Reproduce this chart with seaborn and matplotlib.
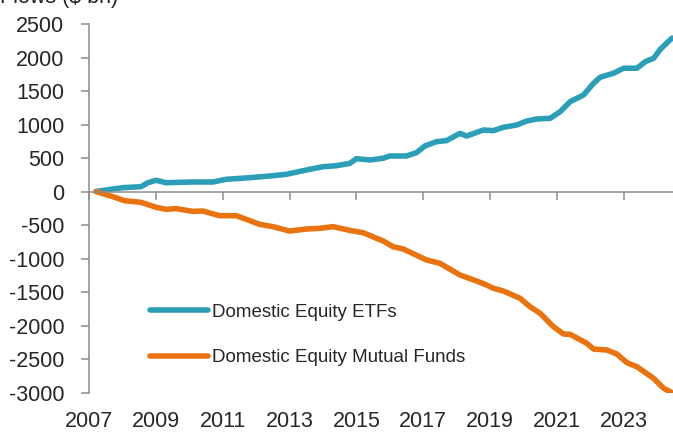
import matplotlib
matplotlib.use("Agg")
import numpy as np
import pandas as pd
import seaborn as sns
import matplotlib.pyplot as plt

# cumulative flows (decimal years)
etf_years = [2007.2, 2007.6, 2008.0, 2008.55, 2008.75, 2009.0, 2009.3, 2010.1, 2010.7,
             2011.1, 2011.8, 2012.5, 2012.9, 2013.6, 2014.0, 2014.4, 2014.8, 2015.0,
             2015.4, 2015.8, 2016.0, 2016.5, 2016.8, 2017.05, 2017.4, 2017.7, 2018.1,
             2018.3, 2018.8, 2019.1, 2019.4, 2019.8, 2020.1, 2020.4, 2020.8, 2021.1,
             2021.4, 2021.8, 2022.1, 2022.3, 2022.7, 2023.0, 2023.4, 2023.65, 2023.9,
             2024.1, 2024.45]
etf_flows = [0, 30, 57, 72, 131, 167, 131, 142, 142,
             182, 206, 236, 257, 331, 370, 385, 420, 490,
             470, 496, 530, 530, 580, 680, 744, 760, 868,
             828, 918, 908, 958, 993, 1052, 1082, 1092, 1191,
             1341, 1441, 1615, 1705, 1765, 1840, 1840, 1938, 1988,
             2123, 2290]

mf_years = [2007.2, 2007.8, 2008.05, 2008.55, 2009.0, 2009.3, 2009.6, 2010.1, 2010.4,
            2010.9, 2011.4, 2011.7, 2012.1, 2012.5, 2013.0, 2013.5, 2013.9, 2014.3,
            2014.8, 2015.2, 2015.8, 2016.1, 2016.4, 2017.1, 2017.5, 2018.1, 2018.6,
            2018.9, 2019.1, 2019.4, 2019.9, 2020.2, 2020.5, 2020.9, 2021.2, 2021.4,
            2021.9, 2022.1, 2022.5, 2022.8, 2023.1, 2023.4, 2023.9, 2024.2, 2024.45]
mf_flows = [0, -92, -137, -162, -236, -266, -256, -296, -291,
            -361, -361, -415, -490, -525, -590, -560, -550, -525,
            -580, -615, -739, -824, -858, -1022, -1072, -1246, -1336,
            -1396, -1445, -1485, -1594, -1720, -1818, -2018, -2127, -2132,
            -2266, -2351, -2366, -2426, -2555, -2615, -2789, -2938, -3003]

series_names = ["Domestic Equity ETFs", "Domestic Equity Mutual Funds"]
colors = ["#2c9fb8", "#e8730f"]
year_ticks = list(range(2007, 2024, 2))
y_ticks = list(range(-3000, 2501, 500))

sns.set_style("white")
plt.rcParams["font.family"] = ["Liberation Sans", "DejaVu Sans"]
plt.rcParams["axes.unicode_minus"] = False

fig = plt.figure(figsize=(6.73, 4.34), dpi=100)
ax = fig.add_axes([0.1327, 0.0956, 0.8673, 0.8491])

df_etf = pd.DataFrame({"year": etf_years, "flow": etf_flows})
df_mf = pd.DataFrame({"year": mf_years, "flow": mf_flows})
sns.lineplot(data=df_etf, x="year", y="flow", ax=ax, color=colors[0],
             linewidth=4, label=series_names[0])
sns.lineplot(data=df_mf, x="year", y="flow", ax=ax, color=colors[1],
             linewidth=4, label=series_names[1])

ax.set_xlim(2007, 2024.48)
ax.set_ylim(-3000, 2500)
ax.set_xlabel("")
ax.set_ylabel("")

grey = "#8c8c8c"
for s in ["top", "right"]:
    ax.spines[s].set_visible(False)
ax.spines["left"].set_color(grey)
ax.spines["left"].set_linewidth(1.1)
ax.spines["bottom"].set_position(("data", 0))
ax.spines["bottom"].set_color(grey)
ax.spines["bottom"].set_linewidth(1.1)

ax.set_yticks(y_ticks)
ax.tick_params(axis="y", direction="out", length=6, width=1.1, color=grey,
               labelsize=15.5, pad=12, left=True)
ax.set_xticks(year_ticks)
ax.tick_params(axis="x", direction="out", length=6, width=1.1, color=grey,
               labelbottom=False, bottom=True)

sec = ax.secondary_xaxis("bottom")
sec.set_xticks(year_ticks)
sec.spines["bottom"].set_visible(False)
sec.tick_params(axis="x", length=0, labelsize=15.5, pad=13)

leg = ax.legend(loc="upper left", bbox_to_anchor=(0.104, 0.241), frameon=False,
                fontsize=13.5, handlelength=3.1, handletextpad=0.2,
                labelspacing=1.5, borderpad=0, borderaxespad=0)
for line in leg.get_lines():
    line.set_linewidth(4)

# title cut off at the top edge of the original image
fig.text(0.0, 1 - 2.5 / 434, "Flows ($ bn)", fontsize=15.5, ha="left",
         va="baseline", color="#222222")

fig.savefig("out.png", dpi=100)
